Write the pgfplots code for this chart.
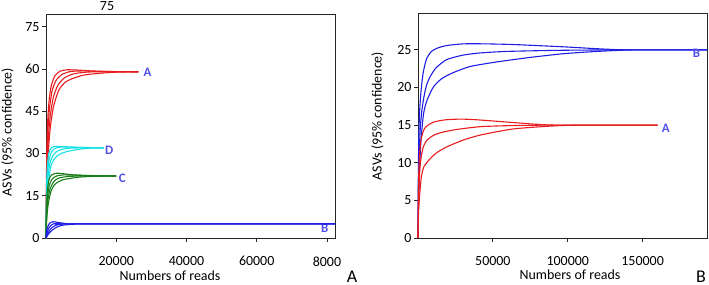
\documentclass[border=0pt]{standalone}
\usepackage{fontspec}
\setmainfont{Carlito}
\usepackage{pgfplots}
\pgfplotsset{compat=1.18}
\definecolor{cred}{RGB}{232,28,28}
\definecolor{cblue}{RGB}{30,30,228}
\definecolor{ccyan}{RGB}{20,225,230}
\definecolor{cgreen}{RGB}{25,125,25}
\definecolor{clab}{RGB}{80,80,230}
\pgfplotsset{
  base/.style={
    scale only axis,
    axis line style={line width=0.9bp, black!85},
    tick style={line width=0.8bp, black!85},
    tick align=outside, major tick length=4bp,
    /pgf/number format/assume math mode=true,
    /pgf/number format/fixed,
    /pgf/number format/1000 sep={},
    scaled x ticks=false,
    tick label style={font=\fontsize{14}{15}\selectfont},
    xticklabel style={yshift=-11bp},
    yticklabel style={xshift=1bp},
    clip=false,
  },
  every axis plot/.append style={line width=1.1bp, smooth, tension=0.4, no markers},
}
\begin{document}
\begin{tikzpicture}
\useasboundingbox (0bp,0bp) rectangle (709bp,-285bp);
% ---------------- Panel A ----------------
\begin{axis}[base, at={(46bp,-238bp)}, anchor=south west,
  width=289bp, height=224bp,
  xmin=0, xmax=82300, ymin=0, ymax=79.5,
  xtick={20000,40000,60000,80000}, xticklabels={20000,40000,60000,8000},
  ytick={0,15,30,45,60,75},
  axis lines=box, xtick pos=bottom, ytick pos=left]
% A red
\addplot[cred] coordinates {(0,0)(100,18)(250,32)(500,42)(900,49)(1500,54)(2500,57.5)(4000,59.2)(6000,59.7)(9000,59.6)(13000,59.3)(18000,59.1)(26300,59)};
\addplot[cred] coordinates {(0,0)(120,16)(300,29)(600,39)(1000,46)(1700,52)(2800,55.8)(4500,58)(7000,59.1)(11000,59.3)(16000,59.1)(26300,59)};
\addplot[cred] coordinates {(0,0)(150,14)(350,26)(700,36)(1200,43)(2000,49.5)(3300,54)(5200,56.8)(8000,58.3)(12000,58.9)(18000,59)(26300,59)};
\addplot[cred] coordinates {(0,0)(180,12)(400,23)(800,33)(1300,40)(2200,47)(3700,52.6)(5500,55.3)(7400,56.5)(10000,57.6)(12300,58.1)(18900,58.8)(26300,59)};
% D cyan
\addplot[ccyan] coordinates {(0,0)(80,12)(200,20)(400,26)(800,30)(1500,32)(2500,32.5)(4000,32.5)(7000,32.3)(11000,32.1)(16500,32)};
\addplot[ccyan] coordinates {(0,0)(100,10)(250,18)(500,24)(1000,28.5)(1800,31)(3000,32)(5000,32.3)(8000,32.2)(16500,32)};
\addplot[ccyan] coordinates {(0,0)(120,9)(300,16)(600,22)(1200,27)(2200,29.7)(3500,31)(6000,31.8)(10000,32)(16500,32)};
\addplot[ccyan] coordinates {(0,0)(150,8)(350,14)(700,20)(1400,25.5)(2500,28.3)(4000,29.8)(5700,30.6)(9400,31.5)(13000,31.9)(16500,32)};
% C green
\addplot[cgreen] coordinates {(0,0)(80,8)(200,13)(400,17)(800,20.5)(1500,22.3)(3000,23)(5000,22.8)(8000,22.4)(13000,22.1)(20000,22)};
\addplot[cgreen] coordinates {(0,0)(100,7)(250,12)(500,15.5)(1000,19)(1800,21)(3000,22)(5000,22.4)(8000,22.3)(20000,22)};
\addplot[cgreen] coordinates {(0,0)(120,6)(300,10.5)(600,14)(1200,17.5)(2200,20)(3500,21.2)(6000,21.8)(10000,22)(20000,22)};
\addplot[cgreen] coordinates {(0,0)(150,5)(350,9)(700,12.5)(1400,16.5)(2500,19)(4600,20.6)(9400,21.6)(14000,21.9)(20000,22)};
% labels
\node[text=clab, font=\bfseries\fontsize{13}{13}\selectfont] at (axis cs:28900,58.7) {A};
\node[text=clab, font=\bfseries\fontsize{13}{13}\selectfont] at (axis cs:18000,31.2) {D};
\node[text=clab, font=\bfseries\fontsize{13}{13}\selectfont] at (axis cs:21700,21.2) {C};
\node[text=clab, font=\bfseries\fontsize{13}{13}\selectfont] at (axis cs:79400,3.3) {B};
% B blue
\addplot[cblue] coordinates {(0,0)(200,2.5)(500,4)(1000,5.2)(2000,5.8)(3500,5.5)(6000,5.1)(10000,5)(82300,5)};
\addplot[cblue] coordinates {(0,0)(300,1.8)(700,3.3)(1300,4.4)(2300,5.1)(4000,5.2)(7000,5)(82300,5)};
\addplot[cblue] coordinates {(0,0)(400,1.3)(900,2.5)(1600,3.6)(2800,4.5)(4500,4.9)(8000,5)(82300,5)};
\addplot[cblue] coordinates {(0,0)(500,1)(1100,2)(2000,3)(3300,4)(5000,4.6)(8000,4.9)(12000,5)(82300,5)};
\end{axis}
% ---------------- Panel B ----------------
\begin{axis}[base, at={(418bp,-238bp)}, anchor=south west,
  width=289bp, height=225bp,
  xmin=0, xmax=193000, ymin=0, ymax=29.9,
  xtick={50000,100000,150000}, xticklabels={50000,100000,150000},
  ytick={0,5,10,15,20,25},
  axis lines=box, xtick pos=bottom, ytick pos=left]
\addplot[cblue] coordinates {(0,0)(200,8)(500,13)(1000,16.5)(2000,19.5)(3500,22)(5700,23.8)(9000,24.8)(13800,25.3)(20000,25.6)(30500,25.8)(45000,25.8)(65000,25.7)(97600,25.4)(120000,25.15)(140000,25)(193000,25)};
\addplot[cblue] coordinates {(0,0)(300,6)(800,11)(1500,14.5)(2500,16.8)(4000,18.8)(5700,20.3)(8000,21.4)(12000,22.6)(19100,23.7)(30000,24.3)(42000,24.6)(60000,24.8)(97600,24.95)(140000,25)(193000,25)};
\addplot[cblue] coordinates {(0,0)(400,5)(1000,9)(2000,13)(3700,16.5)(6000,18.3)(10400,20.1)(16000,21.2)(23800,22)(35000,22.8)(52700,23.4)(75000,24)(97600,24.5)(120000,24.8)(145000,25)(193000,25)};
\addplot[cred] coordinates {(0,0)(200,5)(500,8.5)(1000,11)(2000,13)(3700,14.3)(6000,14.9)(10400,15.4)(18000,15.7)(28500,15.8)(40000,15.7)(60000,15.4)(80000,15.1)(95000,15)(160000,15)};
\addplot[cred] coordinates {(0,0)(300,4)(800,7.5)(1500,9.8)(2500,11.2)(3700,12.2)(6000,13.0)(10000,13.6)(15100,14)(25000,14.4)(42000,14.8)(65000,14.95)(90000,15)(160000,15)};
\addplot[cred] coordinates {(0,0)(400,3.5)(1000,5.5)(1800,7.3)(2300,8.2)(4000,9.5)(8400,10.6)(13000,11.4)(19100,12.1)(30000,13)(42000,13.7)(64000,14.5)(91000,14.9)(110000,15)(160000,15)};
\node[text=clab, font=\bfseries\fontsize{13}{13}\selectfont] at (axis cs:165500,14.6) {A};
\node[text=clab, font=\bfseries\fontsize{13}{13}\selectfont] at (axis cs:186000,24.6) {B};
\end{axis}
% ---------------- texts ----------------
\node[font=\fontsize{14}{15}\selectfont] at (107bp,-6bp) {75};
\node[font=\fontsize{14}{15}\selectfont] at (170bp,-276bp) {Numbers of reads};
\node[font=\fontsize{14}{15}\selectfont] at (570bp,-275bp) {Numbers of reads};
\node[font=\fontsize{14}{15}\selectfont, rotate=90] at (7.5bp,-132bp) {ASVs (95\% confidence)};
\node[font=\fontsize{14}{15}\selectfont, rotate=90] at (377.5bp,-116bp) {ASVs (95\% confidence)};
\node[font=\fontsize{18}{18}\selectfont, anchor=base, inner sep=0pt] at (352bp,-282bp) {A};
\node[font=\fontsize{18}{18}\selectfont, anchor=base, inner sep=0pt] at (701bp,-282bp) {B};
\end{tikzpicture}
\end{document}
